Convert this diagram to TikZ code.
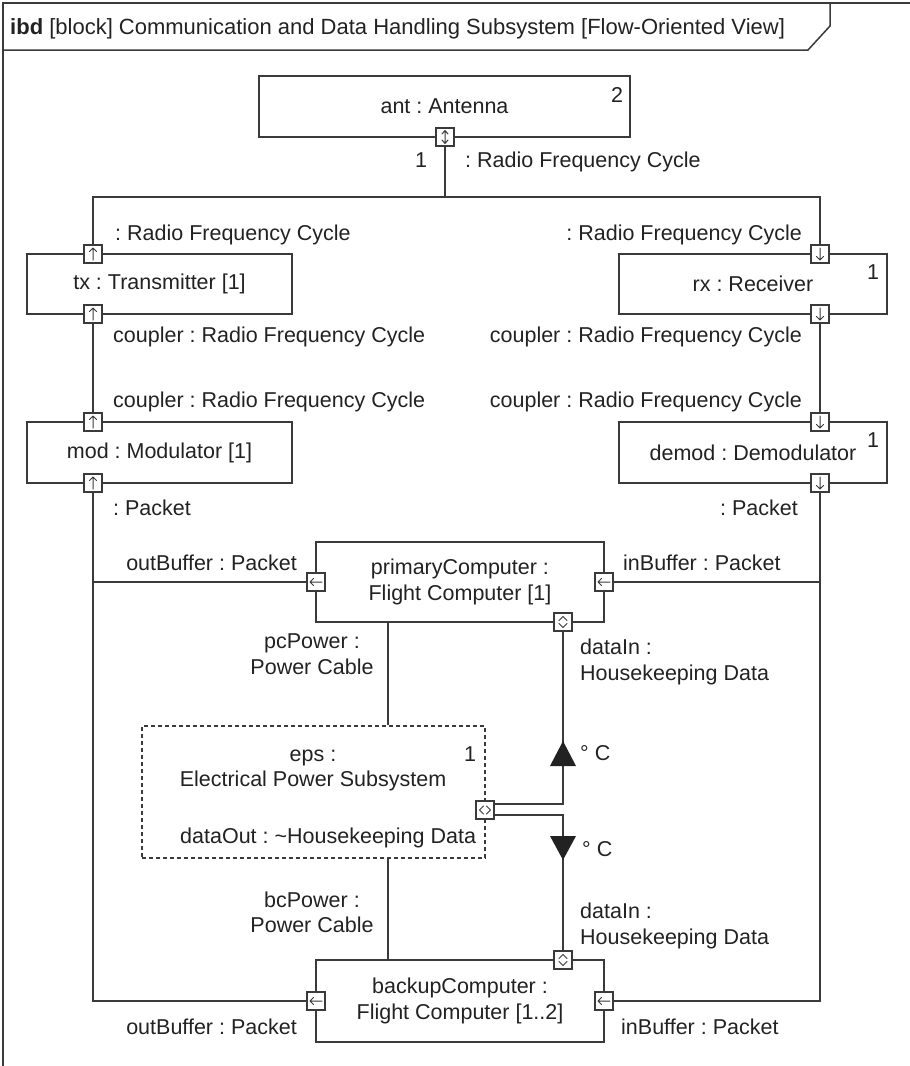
\documentclass[tikz,border=0pt]{standalone}
\usepackage{fontspec}
\setmainfont{Liberation Sans}
\usetikzlibrary{calc}
\definecolor{ink}{HTML}{222222}
\definecolor{wire}{HTML}{3A3A3A}
\frenchspacing

\begin{document}
\begin{tikzpicture}[x=1pt,y=-1pt,
  every node/.style={font=\fontsize{21.5}{26}\selectfont, text=ink},
  blk/.style={draw=wire, line width=1.5pt, fill=white, inner sep=0pt, align=center},
  port/.style={draw=wire, line width=1.1pt, fill=white, minimum size=18pt, inner sep=0pt},
  glyph/.style={draw=wire, line width=1pt, line cap=round, line join=round},
  wireline/.style={draw=wire, line width=1.5pt},
  lbl/.style={inner sep=0pt},
  pics/upglyph/.style={code={\draw[glyph] (0,6) -- (0,-6) (-3.5,-2.5) -- (0,-6) -- (3.5,-2.5);}},
  pics/downglyph/.style={code={\draw[glyph] (0,-6) -- (0,6) (-3.5,2.5) -- (0,6) -- (3.5,2.5);}},
  pics/leftglyph/.style={code={\draw[glyph] (6,0) -- (-6,0) (-2.5,-3.5) -- (-6,0) -- (-2.5,3.5);}},
  pics/bothglyph/.style={code={\draw[glyph] (0,-6) -- (0,6) (-3,-3) -- (0,-6.5) -- (3,-3) (-3,3) -- (0,6.5) -- (3,3);}},
  pics/vchevrons/.style={code={\draw[glyph] (-4,-1.5) -- (0,-5.5) -- (4,-1.5) (-4,1.5) -- (0,5.5) -- (4,1.5);}},
  pics/hchevrons/.style={code={\draw[glyph] (-1.5,-4) -- (-5.5,0) -- (-1.5,4) (1.5,-4) -- (5.5,0) -- (1.5,4);}}
]

\useasboundingbox (0,0) rectangle (910,1066);

% diagram frame and name tab
\draw[wireline] (3,1066) -- (3,3) -- (910,3);
\draw[wireline] (3,50) -- (808,50) -- (830,26) -- (830,3);
\node[lbl, anchor=base west, font=\fontsize{22}{26}\selectfont] (title) at (10,34) {\textbf{ibd} [block] Communication and Data Handling Subsystem [Flow-Oriented View]};

% parts
\node[blk, minimum width=371, minimum height=61] (ant) at (444.5,106.5) {ant : Antenna};
\node[blk, minimum width=265, minimum height=60] (tx) at (159.5,284) {tx : Transmitter [1]};
\node[blk, minimum width=268, minimum height=60] (rx) at (753,284) {rx : Receiver};
\node[blk, minimum width=265, minimum height=61] (mod) at (159.5,452.5) {mod : Modulator [1]};
\node[blk, minimum width=268, minimum height=61] (demod) at (753,452.5) {demod : Demodulator};
\node[blk, minimum width=288, minimum height=80] (prim) at (460,582) {primaryComputer :\\Flight Computer [1]};
\node[blk, dashed, dash pattern=on 4pt off 3pt, line width=1.2pt, minimum width=343, minimum height=132] (eps) at (313.5,792) {};
\node[blk, minimum width=288, minimum height=82] (bkup) at (460,1001) {backupComputer :\\Flight Computer [1..2]};

% multiplicities
\node[lbl, anchor=base] (mAnt) at (617,102.5) {2};
\node[lbl, anchor=base] (mRx) at (873,279.5) {1};
\node[lbl, anchor=base] (mDemod) at (873,447.5) {1};
\node[lbl, anchor=base] (mEps) at (470,761) {1};

% texts inside the power subsystem
\node[lbl, anchor=base] (epsA) at (313,761.5) {eps :};
\node[lbl, anchor=base] (epsB) at (313,786.5) {Electrical Power Subsystem};
\node[lbl, anchor=base west] (epsC) at (180,843.5) {dataOut : \textasciitilde Housekeeping Data};

% ports
\node[port] (antP) at (445,137) {};
\node[port] (txT) at (93,254) {};
\node[port] (txB) at (93,314) {};
\node[port] (rxT) at (820,254) {};
\node[port] (rxB) at (820,314) {};
\node[port] (modT) at (93,422) {};
\node[port] (modB) at (93,483) {};
\node[port] (demodT) at (820,422) {};
\node[port] (demodB) at (820,483) {};
\node[port] (primL) at (316,582) {};
\node[port] (primR) at (604,582) {};
\node[port] (primD) at (563,622) {};
\node[port] (epsP) at (485,810) {};
\node[port] (bkL) at (316,1001) {};
\node[port] (bkR) at (604,1001) {};
\node[port] (bkT) at (563,960) {};

\pic at (antP) {bothglyph};
\pic at (txT) {upglyph};
\pic at (txB) {upglyph};
\pic at (modT) {upglyph};
\pic at (modB) {upglyph};
\pic at (rxT) {downglyph};
\pic at (rxB) {downglyph};
\pic at (demodT) {downglyph};
\pic at (demodB) {downglyph};
\pic at (primL) {leftglyph};
\pic at (primR) {leftglyph};
\pic at (bkL) {leftglyph};
\pic at (bkR) {leftglyph};
\pic at (primD) {vchevrons};
\pic at (bkT) {vchevrons};
\pic at (epsP) {hchevrons};

% connectors
\coordinate (busL) at (93,197);
\coordinate (busR) at (820,197);
\coordinate (pcX) at (388,0);
\draw[wireline] (antP.south) -- (antP.south |- busL);
\draw[wireline] (txT.north) -- (busL) -- (busR) -- (rxT.north);
\draw[wireline] (txB.south) -- (modT.north);
\draw[wireline] (rxB.south) -- (demodT.north);
\draw[wireline] (modB.south) |- (bkL.west);
\draw[wireline] (modB.south |- primL) -- (primL.west);
\draw[wireline] (demodB.south) |- (bkR.east);
\draw[wireline] (demodB.south |- primR) -- (primR.east);
\draw[wireline] (prim.south -| pcX) -- (eps.north -| pcX);
\draw[wireline] (eps.south -| pcX) -- (bkup.north -| pcX);
\draw[wireline] ([yshift=6pt]epsP.east) -| (primD.south);
\draw[wireline] ([yshift=-5pt]epsP.east) -| (bkT.north);

% flow direction of the housekeeping data
\coordinate (triU) at (563,753.5);
\coordinate (triD) at (563,848);
\fill[ink, shift={(triU)}] (0,-12.5) -- (13,12.5) -- (-13,12.5) -- cycle;
\fill[ink, shift={(triD)}] (0,12) -- (13,-12) -- (-13,-12) -- cycle;
\node[lbl, anchor=base west] (degU) at (580,760.5) {° C};
\node[lbl, anchor=base west] (degD) at (582,856.5) {° C};

% connector labels
\node[lbl, anchor=base] (lAntM) at (421,167.5) {1};
\node[lbl, anchor=base west] (lAnt) at (465,167.5) {: Radio Frequency Cycle};
\node[lbl, anchor=base west] (lTxT) at (115,240.5) {: Radio Frequency Cycle};
\node[lbl, anchor=base east] (lRxT) at (802,240.5) {: Radio Frequency Cycle};
\node[lbl, anchor=base west] (lTxB) at (113,342.5) {coupler : Radio Frequency Cycle};
\node[lbl, anchor=base east] (lRxB) at (802,342.5) {coupler : Radio Frequency Cycle};
\node[lbl, anchor=base west] (lModT) at (113,407.5) {coupler : Radio Frequency Cycle};
\node[lbl, anchor=base east] (lDemodT) at (802,407.5) {coupler : Radio Frequency Cycle};
\node[lbl, anchor=base west] (lModB) at (113,515.5) {: Packet};
\node[lbl, anchor=base east] (lDemodB) at (798,515.5) {: Packet};
\node[lbl, anchor=base east] (lPrimL) at (297,570.5) {outBuffer : Packet};
\node[lbl, anchor=base west] (lPrimR) at (623,570.5) {inBuffer : Packet};
\node[lbl, anchor=base] (lPcA) at (312,648.5) {pcPower :};
\node[lbl, anchor=base] (lPcB) at (312,674.5) {Power Cable};
\node[lbl, anchor=base west] (lDiA) at (580,654.5) {dataIn :};
\node[lbl, anchor=base west] (lDiB) at (580,680.5) {Housekeeping Data};
\node[lbl, anchor=base] (lBcA) at (312,907.5) {bcPower :};
\node[lbl, anchor=base] (lBcB) at (312,932.5) {Power Cable};
\node[lbl, anchor=base west] (lDoA) at (580,918.5) {dataIn :};
\node[lbl, anchor=base west] (lDoB) at (580,944.5) {Housekeeping Data};
\node[lbl, anchor=base east] (lBkL) at (297,1034.5) {outBuffer : Packet};
\node[lbl, anchor=base west] (lBkR) at (621,1034.5) {inBuffer : Packet};

\end{tikzpicture}
\end{document}
